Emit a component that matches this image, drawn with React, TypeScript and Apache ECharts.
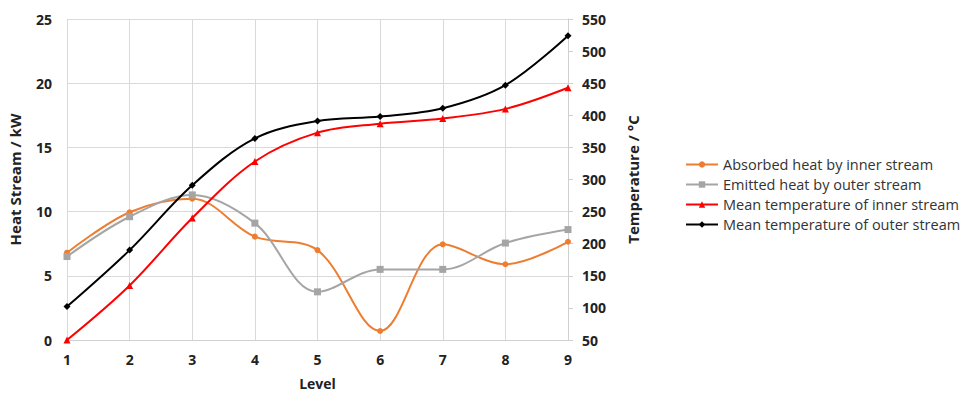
import React, { useEffect, useRef } from "react";
import * as echarts from "echarts";

const levels = ["1", "2", "3", "4", "5", "6", "7", "8", "9"];
const absorbedHeat = [6.8, 9.95, 11.0, 8.05, 7.0, 0.7, 7.45, 5.9, 7.65];
const emittedHeat = [6.5, 9.6, 11.3, 9.1, 3.75, 5.5, 5.5, 7.55, 8.6];
const meanTempInner = [50, 135, 240, 328, 373, 387, 395, 410, 443];
const meanTempOuter = [102, 190, 291, 364, 391, 398, 411, 447, 524];

const FONT = "Open Sans";

export default function App() {
  const ref = useRef<HTMLDivElement>(null);
  useEffect(() => {
    if (!ref.current) return;
    const chart = echarts.init(ref.current, undefined, { renderer: "svg" });
    const axisLabel = { color: "#222", fontWeight: "bold" as const, fontSize: 14, fontFamily: FONT };
    const nameStyle = { color: "#222", fontWeight: "bold" as const, fontSize: 15, fontFamily: FONT };
    chart.setOption({
      animation: false,
      backgroundColor: "#fff",
      textStyle: { fontFamily: FONT },
      grid: { left: 67, right: 401, top: 19, bottom: 54, containLabel: false, outerBoundsMode: "none" },
      legend: {
        orient: "vertical",
        left: 680,
        top: 152,
        itemWidth: 32,
        itemHeight: 8,
        itemGap: 5,
        textStyle: { color: "#333", fontSize: 14.5, fontFamily: FONT },
        data: [
          "Absorbed heat by inner stream",
          "Emitted heat by outer stream",
          "Mean temperature of inner stream",
          "Mean temperature of outer stream",
        ],
      },
      xAxis: {
        type: "category",
        data: levels,
        boundaryGap: false,
        name: "Level",
        nameLocation: "middle",
        nameGap: 35,
        nameTextStyle: { ...nameStyle, fontSize: 14, lineHeight: 16 },
        axisLine: { show: true, lineStyle: { color: "#d0d0d0" } },
        axisTick: { show: false },
        axisLabel: { ...axisLabel, margin: 12 },
        splitLine: { show: true, lineStyle: { color: "#d9d9d9" } },
      },
      yAxis: [
        {
          type: "value",
          min: 0,
          max: 25,
          interval: 5,
          name: "Heat Stream / kW",
          nameLocation: "middle",
          nameGap: 45,
          nameTextStyle: nameStyle,
          axisLine: { show: false },
          axisTick: { show: false },
          axisLabel: { ...axisLabel, margin: 15 },
          splitLine: { show: true, lineStyle: { color: "#d9d9d9" } },
        },
        {
          type: "value",
          min: 50,
          max: 550,
          interval: 50,
          position: "right",
          name: "Temperature / °C",
          nameLocation: "middle",
          nameGap: 57,
          nameRotate: 90,
          nameTextStyle: nameStyle,
          axisLine: { show: true, lineStyle: { color: "#d0d0d0" } },
          axisTick: { show: true, length: 5, lineStyle: { color: "#d0d0d0" } },
          axisLabel: { ...axisLabel, margin: 14 },
          splitLine: { show: false },
        },
      ],
      series: [
        {
          name: "Absorbed heat by inner stream",
          type: "line",
          yAxisIndex: 0,
          data: absorbedHeat,
          smooth: 0.35,
          symbol: "circle",
          symbolSize: 6,
          lineStyle: { color: "#ed7d31", width: 2 },
          itemStyle: { color: "#ed7d31" },
        },
        {
          name: "Emitted heat by outer stream",
          type: "line",
          yAxisIndex: 0,
          data: emittedHeat,
          smooth: 0.35,
          symbol: "rect",
          symbolSize: 7,
          lineStyle: { color: "#a5a5a5", width: 2 },
          itemStyle: { color: "#a5a5a5" },
        },
        {
          name: "Mean temperature of inner stream",
          type: "line",
          yAxisIndex: 1,
          data: meanTempInner,
          smooth: 0.35,
          symbol: "triangle",
          symbolSize: 7,
          lineStyle: { color: "#ff0000", width: 2 },
          itemStyle: { color: "#ff0000" },
        },
        {
          name: "Mean temperature of outer stream",
          type: "line",
          yAxisIndex: 1,
          data: meanTempOuter,
          smooth: 0.35,
          symbol: "diamond",
          symbolSize: 7,
          lineStyle: { color: "#000000", width: 2 },
          itemStyle: { color: "#000000" },
        },
      ],
    });
    return () => chart.dispose();
  }, []);
  return <div ref={ref} style={{ width: 969, height: 394, position: "fixed", left: 0, top: 0 }} />;
}
